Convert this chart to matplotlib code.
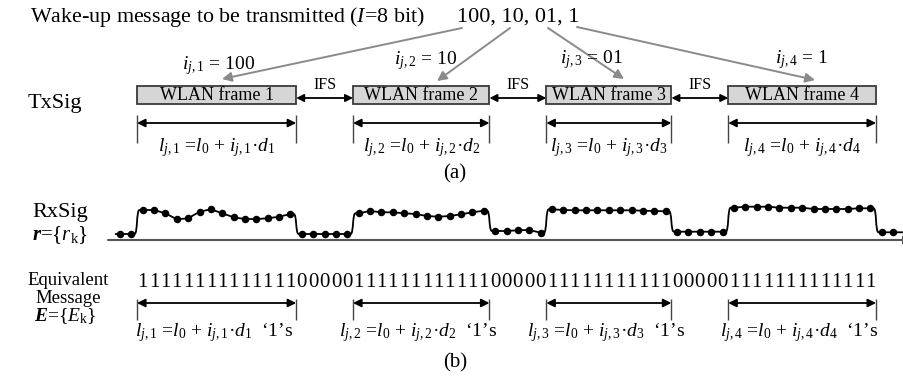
import numpy as np
import matplotlib.pyplot as plt
from matplotlib.patches import Rectangle, FancyArrowPatch, PathPatch
from matplotlib.path import Path

plt.rcParams['font.family'] = ['Liberation Serif', 'DejaVu Serif']
plt.rcParams['mathtext.fontset'] = 'custom'
plt.rcParams['mathtext.rm'] = 'Liberation Serif'
plt.rcParams['mathtext.it'] = 'Liberation Serif:italic'
plt.rcParams['mathtext.bf'] = 'Liberation Serif:bold'
plt.rcParams['mathtext.bfit'] = 'Liberation Serif:italic:bold'

# wake-up message cut into one symbol per WLAN frame
message = ['100', '10', '01', '1']

# received samples r_k, height above the time axis
r_lead = [6, 6]
r_frame1 = [30, 30, 26.7, 20.7, 21.7, 28.3, 30.7, 26.7, 22.7, 21, 21, 21.7, 23.3, 26]
r_gap1 = [6, 6, 6, 6, 6]
r_frame2 = [26.7, 29, 27.7, 27.7, 26.7, 26, 24, 23.3, 24, 25.7, 27.7, 29.3]
r_gap2 = [9, 9, 9.7, 10, 7.3]
r_frame3 = [30.7, 30, 29.7, 29.7, 29.7, 29.7, 29.7, 29.7, 29.3, 29, 28.7]
r_gap3 = [8.3, 8.3, 8.3, 8.3, 8.3]
r_frame4 = [32.3, 33.3, 33.3, 33.3, 32.3, 32.3, 32.3, 31, 31, 31, 31, 31.7, 31.7]
r_tail = [7.7, 7.7]
threshold = 15

# layout (pixels)
X0, PITCH, BASE = 137, 11.37, 240

r = np.array(r_lead + r_frame1 + r_gap1 + r_frame2 + r_gap2 + r_frame3
             + r_gap3 + r_frame4 + r_tail, float)
n = np.arange(len(r)) - len(r_lead)
xs = X0 + (n + 0.5) * PITCH
ys = BASE - r
bits = (r > threshold).astype(int)

# runs of '1' = frames
edges = np.flatnonzero(np.diff(bits)) + 1
starts = [e for e in edges if bits[e] == 1]
ends = [e for e in edges if bits[e] == 0]
frames = [(X0 + n[s] * PITCH, X0 + n[e] * PITCH) for s, e in zip(starts, ends)]

fig = plt.figure(figsize=(9.04, 3.81), dpi=100)
ax = fig.add_axes([0, 0, 1, 1])
ax.set_xlim(0, 904)
ax.set_ylim(381, 0)
ax.axis('off')


def arrow(p0, p1, style, color='black', lw=1.3, ms=13):
    ax.add_patch(FancyArrowPatch(p0, p1, arrowstyle=style, color=color, lw=lw,
                                 mutation_scale=ms, shrinkA=0, shrinkB=0))


# ---- (a) transmitted frames
ax.text(30, 22, 'Wake-up message to be transmitted ($I$=8 bit)', fontsize=15.8, va='baseline')
ax.text(457, 22, ', '.join(message), fontsize=16, va='baseline')

arrow_from = [(462, 28), (510, 28), (548, 28), (577, 27)]
arrow_to = [(222, 79), (437, 81), (624, 79), (815, 80)]
lab_pos = [(219, 69), (426, 64), (592, 63), (802, 63)]
for k, sym in enumerate(message):
    arrow(arrow_from[k], arrow_to[k], '-|>', color='#8a8a8a', lw=1.4, ms=14)
    ax.text(*lab_pos[k], f'$i_{{j,{k + 1}}}$ = {sym}', fontsize=14, ha='center', va='baseline')

ax.text(55, 108, 'TxSig', fontsize=16, ha='center', va='baseline')
for k, (xa, xb) in enumerate(frames):
    ax.add_patch(Rectangle((xa, 86), xb - xa, 18, fc='#d6d6d6', ec='#3a3a3a', lw=1.3))
    ax.text((xa + xb) / 2, 95.5, f'WLAN frame {k + 1}', fontsize=13, ha='center', va='center')
    if k + 1 < len(frames):
        nxt = frames[k + 1][0]
        arrow((xb, 98), (nxt, 98), '<|-|>', ms=11)
        ax.text((xb + nxt) / 2, 85, 'IFS', fontsize=11.5, ha='center', va='center')
    # length of each frame
    ax.vlines([xa, xb], 115, 143, color='#444444', lw=1)
    arrow((xa, 123), (xb, 123), '<|-|>', ms=12)
    ax.text((xa + xb) / 2, 151,
            f'$l_{{j,{k + 1}}}$ =$l_0$ + $i_{{j,{k + 1}}}$\u00b7$d_{k + 1}$',
            fontsize=14, ha='center', va='baseline')
ax.text(455, 178, '(a)', fontsize=15, ha='center', va='baseline')

# ---- (b) received signal and equivalent message
ax.text(60, 217, 'RxSig', fontsize=16, ha='center', va='baseline')
ax.text(60, 240, r'$\mathbfit{r}$={$r_{\mathrm{k}}$}', fontsize=15, ha='center', va='baseline')

arrow((108, 240), (912, 240), '-|>', color='#555555', lw=1.5, ms=12)

verts = [(xs[0] - 5, ys[0]), (xs[0], ys[0])]
codes = [Path.MOVETO, Path.LINETO]
for i in range(len(xs) - 1):
    if bits[i] != bits[i + 1]:
        xm = (xs[i] + xs[i + 1]) / 2
        verts += [(xm - 2.5, ys[i]), (xm + 0.8, ys[i]), (xm - 0.8, ys[i + 1]), (xm + 2.5, ys[i + 1])]
        codes += [Path.LINETO, Path.CURVE4, Path.CURVE4, Path.CURVE4]
    verts.append((xs[i + 1], ys[i + 1]))
    codes.append(Path.LINETO)
verts.append((xs[-1] + 10, ys[-1]))
codes.append(Path.LINETO)
ax.add_patch(PathPatch(Path(verts, codes), fill=False, ec='black', lw=1.3))
ax.plot(xs, ys, 'o', color='black', ms=4.4)

ax.text(68, 285, 'Equivalent', fontsize=13.5, ha='center', va='baseline')
ax.text(68, 303, 'Message', fontsize=13.5, ha='center', va='baseline')
ax.text(65, 321, r'$\mathbfit{E}$={$E_{\mathrm{k}}$}', fontsize=14, ha='center', va='baseline')

msg = n >= 0
last = n[bits == 1].max()
for x, b in zip(xs[msg & (n <= last)], bits[msg & (n <= last)]):
    ax.text(x, 287, str(b), fontsize=15, ha='center', va='baseline')

for k, (xa, xb) in enumerate(frames):
    ax.vlines([xa, xb], 299, 320, color='#444444', lw=1)
    arrow((xa, 303), (xb, 303), '<|-|>', ms=12)
    ax.text((xa + xb) / 2 - 3, 336,
            f'$l_{{j,{k + 1}}}$ =$l_0$ + $i_{{j,{k + 1}}}$\u00b7$d_{k + 1}$  \u20181\u2019s',
            fontsize=14, ha='center', va='baseline')
ax.text(455, 367, '(b)', fontsize=15, ha='center', va='baseline')

fig.savefig('out.png', dpi=100)
